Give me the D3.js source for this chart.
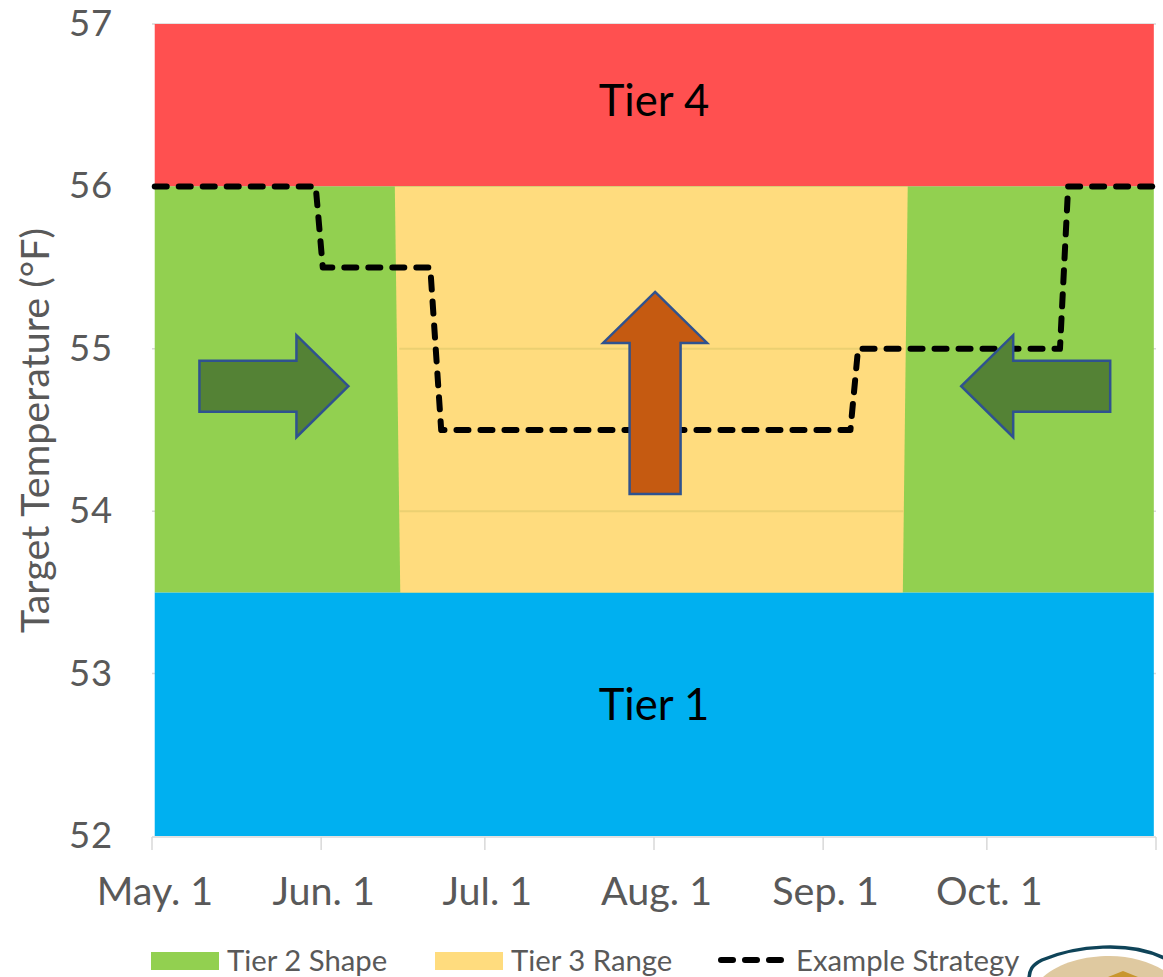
<!DOCTYPE html>
<html>
<head>
<meta charset="utf-8">
<script src="https://cdn.jsdelivr.net/npm/d3@7"></script>
<style>
  html, body { margin: 0; padding: 0; background: #fff; }
  svg { display: block; }
  text { font-family: Lato, "Open Sans", sans-serif; }
</style>
</head>
<body>
<div id="chart"></div>
<script>
/* Tier chart - target temperature by month */

// x values are days since May 1
const monthLabels = ["May. 1", "Jun. 1", "Jul. 1", "Aug. 1", "Sep. 1", "Oct. 1", ""];
const monthDays = [0, 31, 61, 92, 123, 153, 184];
const tempTicks = [52, 53, 54, 55, 56, 57];

const bandStart = 0.5, bandEnd = 183.6;
const tier1Range = [52, 53.5];
const tier4Range = [56, 57];

// middle band outline
const tier3Days = [44.5, 45.5, 137.6, 138.5];
const tier3Temps = [56, 53.5, 53.5, 56];

const strategyDays = [0.5, 30, 31.3, 51, 53, 128, 129.4, 166.4, 167.9, 183.6];
const strategyTemps = [56, 56, 55.5, 55.5, 54.5, 54.5, 55, 55, 56, 56];

const width = 1163, height = 977;
const margin = { top: 24, right: 7, bottom: 141, left: 152 };

const svg = d3.select("#chart")
  .append("svg")
  .attr("width", width)
  .attr("height", height)
  .attr("viewBox", [0, 0, width, height]);

const x = d3.scaleLinear()
  .domain([0, 184])
  .range([margin.left, width - margin.right]);

const y = d3.scaleLinear()
  .domain([52, 57])
  .range([height - margin.bottom, margin.top]);

// light gridlines, the bands cover nearly all of them
svg.append("g")
  .selectAll("line")
  .data(tempTicks)
  .join("line")
  .attr("x1", x(0))
  .attr("x2", x(184))
  .attr("y1", d => y(d) + (d === 52 ? 1 : 0))
  .attr("y2", d => y(d) + (d === 52 ? 1 : 0))
  .attr("stroke", "#d9d9d9")
  .attr("stroke-width", 1.5);

const rectBand = (range, color) => svg.append("rect")
  .attr("x", x(bandStart))
  .attr("width", x(bandEnd) - x(bandStart))
  .attr("y", y(range[1]))
  .attr("height", y(range[0]) - y(range[1]))
  .attr("fill", color);

rectBand(tier4Range, "#ff5050");
rectBand(tier1Range, "#00b0f0");
rectBand([tier1Range[1], tier4Range[0]], "#92d050");

const polyLine = d3.line().x(d => x(d[0])).y(d => y(d[1]));

svg.append("path")
  .attr("d", polyLine(d3.zip(tier3Days, tier3Temps)) + "Z")
  .attr("fill", "#ffdc7e");

// gridlines show through the yellow band
svg.append("g")
  .selectAll("line")
  .data([54, 55])
  .join("line")
  .attr("x1", x(tier3Days[1]) - 1)
  .attr("x2", x(tier3Days[2]) + 1)
  .attr("y1", d => y(d))
  .attr("y2", d => y(d))
  .attr("stroke", "#ebd072")
  .attr("stroke-width", 2);

// x axis ticks
svg.append("g")
  .selectAll("line")
  .data(monthDays)
  .join("line")
  .attr("x1", d => x(d)).attr("x2", d => x(d))
  .attr("y1", y(52) + 1).attr("y2", y(52) + 14)
  .attr("stroke", "#d9d9d9").attr("stroke-width", 1.5);

svg.append("g")
  .selectAll("text")
  .data(d3.zip(monthDays, monthLabels))
  .join("text")
  .attr("x", d => x(d[0]) + (d[0] === 0 ? 3 : 2.5))
  .attr("y", 905)
  .attr("text-anchor", "middle")
  .attr("font-size", 39.5)
  .attr("fill", "#595959")
  .text(d => d[1]);

// y axis labels
svg.append("g")
  .selectAll("text")
  .data(tempTicks)
  .join("text")
  .attr("x", 113)
  .attr("y", d => y(d) + 12)
  .attr("text-anchor", "end")
  .attr("font-size", 36.5)
  .attr("letter-spacing", 0.8)
  .attr("fill", "#595959")
  .text(d => d);

svg.append("text")
  .attr("transform", `translate(49,430.5) rotate(-90)`)
  .attr("text-anchor", "middle")
  .attr("font-size", 39.5)
  .attr("fill", "#595959")
  .text("Target Temperature (°F)");

// tier labels
svg.append("text")
  .attr("x", x(92)).attr("y", 116)
  .attr("text-anchor", "middle")
  .attr("font-size", 43.6)
  .text("Tier 4");

svg.append("text")
  .attr("x", x(92)).attr("y", 720)
  .attr("text-anchor", "middle")
  .attr("font-size", 43.6)
  .text("Tier 1");

// strategy line
svg.append("path")
  .attr("d", polyLine(d3.zip(strategyDays, strategyTemps)))
  .attr("fill", "none")
  .attr("stroke", "#000")
  .attr("stroke-width", 6)
  .attr("stroke-linecap", "round")
  .attr("stroke-linejoin", "round")
  .attr("stroke-dasharray", "12 12");

// block arrows, tip placed in chart units
const arrowPath = (tipX, tipY, dirX, dirY, len, headLen, headHalf, shaftHalf) => {
  const nx = -dirY, ny = dirX;
  const p = (along, side) => [tipX - dirX * along + nx * side, tipY - dirY * along + ny * side];
  return d3.line()([
    p(0, 0), p(headLen, headHalf), p(headLen, shaftHalf), p(len, shaftHalf),
    p(len, -shaftHalf), p(headLen, -shaftHalf), p(headLen, -headHalf)
  ]) + "Z";
};

const arrowTemp = 54.77;

svg.append("path")
  .attr("d", arrowPath(x(36), y(arrowTemp), 1, 0, 149, 52, 51, 25.5))
  .attr("fill", "#548235").attr("stroke", "#2f528f").attr("stroke-width", 2.5);

svg.append("path")
  .attr("d", arrowPath(x(148.3), y(arrowTemp), -1, 0, 149, 52, 51, 25.5))
  .attr("fill", "#548235").attr("stroke", "#2f528f").attr("stroke-width", 2.5);

svg.append("path")
  .attr("d", arrowPath(x(92.2), y(55.35), 0, -1, 202, 51, 52, 25.5))
  .attr("fill", "#c55a11").attr("stroke", "#2f528f").attr("stroke-width", 2.5);

// legend
const legend = svg.append("g");

legend.append("rect").attr("x", 151).attr("y", 952).attr("width", 68).attr("height", 18).attr("fill", "#92d050");
legend.append("text").attr("x", 227).attr("y", 971).attr("font-size", 29.3).attr("fill", "#595959").text("Tier 2 Shape");

legend.append("rect").attr("x", 435).attr("y", 952).attr("width", 68).attr("height", 18).attr("fill", "#ffdc7e");
legend.append("text").attr("x", 511).attr("y", 971).attr("font-size", 29.3).attr("fill", "#595959").text("Tier 3 Range");

legend.append("line")
  .attr("x1", 721).attr("x2", 787).attr("y1", 960).attr("y2", 960)
  .attr("stroke", "#000").attr("stroke-width", 6)
  .attr("stroke-linecap", "round").attr("stroke-dasharray", "12 12");
legend.append("text").attr("x", 796).attr("y", 971).attr("font-size", 29.3).attr("fill", "#595959").text("Example Strategy");

// logo peeking in at the bottom right corner
const logo = svg.append("g");
logo.append("path")
  .attr("d", "M1029,980 C1029,970 1032,965 1042,960 C1075,946 1130,940 1166,959")
  .attr("fill", "none").attr("stroke", "#0f4459").attr("stroke-width", 3.5);
logo.append("path")
  .attr("d", "M1043,977 C1060,962 1085,956 1110,956 C1130,956 1150,962 1163,970 L1163,977 Z")
  .attr("fill", "#dfc9a0");
logo.append("path")
  .attr("d", "M1108,977 L1123,971 L1138,977 Z")
  .attr("fill", "#c8962e");
</script>
</body>
</html>
